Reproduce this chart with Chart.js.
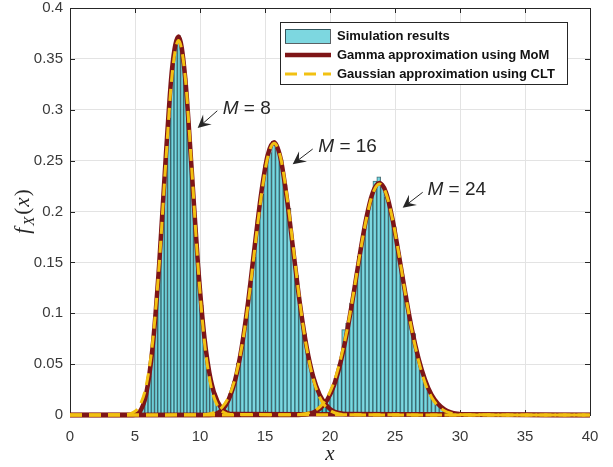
<!DOCTYPE html>
<html>
<head>
<meta charset="utf-8">
<script src="https://cdn.jsdelivr.net/npm/chart.js@4.4.1/dist/chart.umd.min.js"></script>
<style>
  html, body { margin: 0; padding: 0; background: #fff; }
  #wrap { width: 613px; height: 467px; }
</style>
</head>
<body>
<div id="wrap"><canvas id="pdfChart"></canvas></div>
<script>
// axis ticks
const xTicks = [0, 5, 10, 15, 20, 25, 30, 35, 40];
const yTicks = [0, 0.05, 0.1, 0.15, 0.2, 0.25, 0.3, 0.35, 0.4];
const yTickLabels = ['0', '0.05', '0.1', '0.15', '0.2', '0.25', '0.3', '0.35', '0.4'];

// simulated histograms (bin centres / heights)
const binX8 = [5.375, 5.625, 5.875, 6.125, 6.375, 6.625, 6.875, 7.125, 7.375, 7.625, 7.875, 8.125, 8.375, 8.625,
  8.875, 9.125, 9.375, 9.625, 9.875, 10.125, 10.375, 10.625, 10.875, 11.125, 11.375, 11.625, 11.875, 12.125];
const hist8 = [0.003, 0.009, 0.021, 0.038, 0.068, 0.101, 0.150, 0.196, 0.254, 0.292, 0.342, 0.360, 0.373, 0.356,
  0.331, 0.289, 0.240, 0.196, 0.145, 0.108, 0.074, 0.050, 0.034, 0.021, 0.012, 0.007, 0.004, 0.002];

const binX16 = [11.15, 11.45, 11.75, 12.05, 12.35, 12.65, 12.95, 13.25, 13.55, 13.85, 14.15, 14.45, 14.75, 15.05,
  15.35, 15.65, 15.95, 16.25, 16.55, 16.85, 17.15, 17.45, 17.75, 18.05, 18.35, 18.65, 18.95, 19.25, 19.55, 19.85,
  20.15, 20.45, 20.75];
const hist16 = [0.002, 0.004, 0.007, 0.013, 0.021, 0.033, 0.051, 0.071, 0.094, 0.128, 0.155, 0.192, 0.217, 0.246,
  0.258, 0.269, 0.262, 0.251, 0.226, 0.203, 0.166, 0.137, 0.104, 0.080, 0.057, 0.040, 0.027, 0.017, 0.011, 0.007,
  0.004, 0.002, 0.001];

const binX24 = [18.35, 18.65, 18.95, 19.25, 19.55, 19.85, 20.15, 20.45, 20.75, 21.05, 21.35, 21.65, 21.95, 22.25,
  22.55, 22.85, 23.15, 23.45, 23.75, 24.05, 24.35, 24.65, 24.95, 25.25, 25.55, 25.85, 26.15, 26.45, 26.75, 27.05,
  27.35, 27.65, 27.95, 28.25, 28.55, 28.85, 29.15, 29.45, 29.75];
const hist24 = [0.001, 0.002, 0.004, 0.007, 0.011, 0.017, 0.026, 0.036, 0.050, 0.084, 0.090, 0.110, 0.130, 0.156,
  0.178, 0.195, 0.214, 0.230, 0.234, 0.224, 0.214, 0.201, 0.185, 0.160, 0.138, 0.117, 0.095, 0.080, 0.058, 0.044,
  0.032, 0.023, 0.016, 0.011, 0.007, 0.005, 0.003, 0.002, 0.001];

// approximation curves
const curveX8 = [0, 4.35, 4.85, 5.35, 5.85, 6.35, 6.85, 7.35, 7.85, 8.35, 8.85, 9.35, 9.85, 10.35, 10.85, 11.35,
  11.85, 12.35, 40];
const gamma8 = [0, 0, 0, 0.003, 0.02, 0.066, 0.146, 0.25, 0.34, 0.372, 0.333, 0.243, 0.147, 0.075, 0.033, 0.013,
  0.004, 0.001, 0];
const gauss8 = [0, 0.0005, 0.0024, 0.009, 0.028, 0.071, 0.146, 0.245, 0.334, 0.368, 0.334, 0.245, 0.146, 0.071,
  0.028, 0.009, 0.0024, 0.0005, 0];

const curveX16 = [0, 10.2, 10.7, 11.2, 11.7, 12.2, 12.7, 13.2, 13.7, 14.2, 14.7, 15.2, 15.7, 16.2, 16.7, 17.2, 17.7,
  18.2, 18.7, 19.2, 19.7, 20.2, 20.7, 21.2, 40];
const gamma16 = [0, 0, 0, 0.001, 0.005, 0.015, 0.034, 0.066, 0.111, 0.165, 0.217, 0.255, 0.268, 0.252, 0.211, 0.159,
  0.108, 0.067, 0.038, 0.020, 0.010, 0.004, 0.002, 0.001, 0];
const gauss16 = [0, 0.0003, 0.001, 0.003, 0.0076, 0.0175, 0.036, 0.066, 0.109, 0.162, 0.214, 0.253, 0.267, 0.253,
  0.214, 0.162, 0.109, 0.066, 0.036, 0.0175, 0.0076, 0.003, 0.001, 0.0003, 0];

const curveX24 = [0, 17.3, 17.8, 18.3, 18.8, 19.3, 19.8, 20.3, 20.8, 21.3, 21.8, 22.3, 22.8, 23.3, 23.8, 24.3, 24.8,
  25.3, 25.8, 26.3, 26.8, 27.3, 27.8, 28.3, 28.8, 29.3, 29.8, 30.3, 40];
const gamma24 = [0, 0, 0.0002, 0.001, 0.003, 0.007, 0.015, 0.029, 0.051, 0.081, 0.118, 0.158, 0.194, 0.219, 0.228,
  0.219, 0.193, 0.157, 0.119, 0.084, 0.056, 0.035, 0.020, 0.011, 0.0055, 0.0026, 0.0012, 0.0005, 0];
const gauss24 = [0, 0.0003, 0.0007, 0.0018, 0.0042, 0.0089, 0.0176, 0.032, 0.054, 0.083, 0.119, 0.158, 0.193, 0.218,
  0.227, 0.218, 0.193, 0.158, 0.119, 0.083, 0.054, 0.032, 0.0176, 0.0089, 0.0042, 0.0018, 0.0007, 0.0003, 0];

// text arrows: [tip], [tail], [text anchor] in data units
const notes = [
  { label: '8', tip: [9.82, 0.282], tail: [11.33, 0.299], at: [11.75, 0.301] },
  { label: '16', tip: [17.13, 0.2464], tail: [18.67, 0.2614], at: [19.1, 0.2637] },
  { label: '24', tip: [25.59, 0.2037], tail: [27.13, 0.2189], at: [27.5, 0.2211] }
];

const legendItems = ['Simulation results', 'Gamma approximation using MoM', 'Gaussian approximation using CLT'];

const barFill = 'rgba(45, 190, 205, 0.62)';
const barEdge = 'rgba(20, 30, 35, 0.7)';
const gammaColor = '#7e1517';
const gaussColor = '#f2c112';
const axisColor = '#262626';

const pts = (xs, ys) => xs.map((x, i) => ({ x: x, y: ys[i] }));

function histSet(xs, ys, axis) {
    return {
        type: 'bar',
        data: pts(xs, ys),
        xAxisID: axis,
        backgroundColor: barFill,
        borderColor: barEdge,
        borderWidth: 0.6,
        barPercentage: 1,
        categoryPercentage: 1,
        grouped: false,
        order: 3
    };
}

function curveSet(xs, ys, gauss) {
    return {
        type: 'line',
        data: pts(xs, ys),
        xAxisID: 'x',
        borderColor: gauss ? gaussColor : gammaColor,
        borderWidth: gauss ? 3 : 4.5,
        borderDash: gauss ? [12, 7] : [],
        borderCapStyle: 'butt',
        pointRadius: 0,
        cubicInterpolationMode: 'monotone',
        fill: false,
        clip: false,
        order: gauss ? 1 : 2
    };
}

const hiddenX = { type: 'linear', min: 0, max: 40, offset: false, display: false };

const frame = {
    id: 'frame',
    beforeDatasetsDraw(chart) {
        const { ctx, chartArea: a, scales: { x, y } } = chart;
        ctx.save();
        ctx.strokeStyle = axisColor;
        ctx.lineWidth = 1;
        ctx.beginPath();
        xTicks.forEach(v => {
            const px = Math.round(x.getPixelForValue(v)) + 0.5;
            ctx.moveTo(px, a.bottom); ctx.lineTo(px, a.bottom - 5);
            ctx.moveTo(px, a.top); ctx.lineTo(px, a.top + 5);
        });
        yTicks.forEach(v => {
            const py = Math.round(y.getPixelForValue(v)) + 0.5;
            ctx.moveTo(a.left, py); ctx.lineTo(a.left + 5, py);
            ctx.moveTo(a.right, py); ctx.lineTo(a.right - 5, py);
        });
        ctx.stroke();
        ctx.strokeRect(Math.round(a.left) + 0.5, Math.round(a.top) + 0.5,
            Math.round(a.right - a.left), Math.round(a.bottom - a.top));
        ctx.restore();
    },
    afterDatasetsDraw(chart) {
        const { ctx, scales: { x, y } } = chart;
        ctx.save();
        // arrows with labels
        notes.forEach(n => {
            const tx = x.getPixelForValue(n.tip[0]), ty = y.getPixelForValue(n.tip[1]);
            const sx = x.getPixelForValue(n.tail[0]), sy = y.getPixelForValue(n.tail[1]);
            const len = Math.hypot(tx - sx, ty - sy);
            const ux = (tx - sx) / len, uy = (ty - sy) / len;
            const L = 13, W = 6.5;
            ctx.strokeStyle = axisColor;
            ctx.fillStyle = axisColor;
            ctx.lineWidth = 1;
            ctx.beginPath();
            ctx.moveTo(sx, sy);
            ctx.lineTo(tx - ux * 6, ty - uy * 6);
            ctx.stroke();
            const bx = tx - ux * L, by = ty - uy * L;
            ctx.beginPath();
            ctx.moveTo(tx, ty);
            ctx.lineTo(bx - uy * W, by + ux * W);
            ctx.lineTo(tx - ux * L * 0.6, ty - uy * L * 0.6);
            ctx.lineTo(bx + uy * W, by - ux * W);
            ctx.closePath();
            ctx.fill();

            let px = x.getPixelForValue(n.at[0]);
            const py = y.getPixelForValue(n.at[1]);
            ctx.textBaseline = 'middle';
            ctx.textAlign = 'left';
            ctx.font = 'italic 19px "Liberation Sans", Arial, sans-serif';
            ctx.fillText('M', px, py);
            px += ctx.measureText('M').width;
            ctx.font = '19px "Liberation Sans", Arial, sans-serif';
            ctx.fillText(' = ' + n.label, px, py);
        });

        // legend box
        const bx = 280, by = 22, bw = 287, bh = 62;
        ctx.fillStyle = '#fff';
        ctx.fillRect(bx, by, bw, bh);
        ctx.strokeStyle = axisColor;
        ctx.lineWidth = 1;
        ctx.strokeRect(bx + 0.5, by + 0.5, bw, bh);
        const rows = [36, 55, 74];
        ctx.fillStyle = barFill;
        ctx.fillRect(285, 29, 45, 14);
        ctx.strokeStyle = barEdge;
        ctx.strokeRect(285.5, 29.5, 45, 14);
        ctx.strokeStyle = gammaColor;
        ctx.lineWidth = 4.5;
        ctx.beginPath(); ctx.moveTo(285, rows[1]); ctx.lineTo(331, rows[1]); ctx.stroke();
        ctx.strokeStyle = gaussColor;
        ctx.lineWidth = 3;
        ctx.setLineDash([12, 7]);
        ctx.beginPath(); ctx.moveTo(285, rows[2]); ctx.lineTo(331, rows[2]); ctx.stroke();
        ctx.setLineDash([]);
        ctx.fillStyle = '#111';
        ctx.font = 'bold 13px "Liberation Sans", Arial, sans-serif';
        ctx.textBaseline = 'middle';
        legendItems.forEach((t, i) => ctx.fillText(t, 337, rows[i]));
        ctx.restore();
    },
    afterDraw(chart) {
        const { ctx, chartArea: a } = chart;
        // y label f_X(x), LaTeX style
        const parts = [
            { t: 'f', f: 'italic 21px "Liberation Serif", serif', dy: 0, gap: 2 },
            { t: 'X', f: 'italic 15px "Liberation Serif", serif', dy: 5, gap: 2 },
            { t: '(', f: '21px "Liberation Serif", serif', dy: 0, gap: 1 },
            { t: 'x', f: 'italic 21px "Liberation Serif", serif', dy: 0, gap: 1 },
            { t: ')', f: '21px "Liberation Serif", serif', dy: 0, gap: 0 }
        ];
        ctx.save();
        ctx.fillStyle = axisColor;
        ctx.textBaseline = 'alphabetic';
        let total = 0;
        parts.forEach(p => { ctx.font = p.f; p.w = ctx.measureText(p.t).width; total += p.w + p.gap; });
        ctx.translate(29, (a.top + a.bottom) / 2);
        ctx.rotate(-Math.PI / 2);
        let cx = -total / 2;
        parts.forEach(p => { ctx.font = p.f; ctx.fillText(p.t, cx, p.dy); cx += p.w + p.gap; });
        ctx.restore();
    }
};

new Chart(document.getElementById('pdfChart'), {
    type: 'bar',
    data: {
        datasets: [
            curveSet(curveX8, gauss8, true),
            curveSet(curveX16, gauss16, true),
            curveSet(curveX24, gauss24, true),
            curveSet(curveX8, gamma8, false),
            curveSet(curveX16, gamma16, false),
            curveSet(curveX24, gamma24, false),
            histSet(binX8, hist8, 'xh8'),
            histSet(binX16, hist16, 'xh16'),
            histSet(binX24, hist24, 'xh24')
        ]
    },
    options: {
        responsive: true,
        maintainAspectRatio: false,
        animation: false,
        layout: { padding: { top: 8, right: 23, left: 0, bottom: 0 } },
        plugins: { legend: { display: false }, tooltip: { enabled: false } },
        scales: {
            x: {
                type: 'linear',
                min: 0,
                max: 40,
                offset: false,
                afterBuildTicks: s => { s.ticks = xTicks.map(v => ({ value: v })); },
                afterFit: s => { s.height = 52; s.paddingLeft = 0; s.paddingRight = 0; },
                ticks: { color: '#3a3a3a', font: { family: '"Liberation Sans", Arial', size: 15 }, padding: 13, maxRotation: 0 },
                grid: { color: '#e3e3e3', drawTicks: false, offset: false },
                border: { display: false },
                title: {
                    display: true, text: 'x', color: axisColor, padding: { top: 0, bottom: 0 },
                    font: { family: '"Liberation Serif", serif', style: 'italic', size: 21 }
                }
            },
            xh8: hiddenX,
            xh16: hiddenX,
            xh24: hiddenX,
            y: {
                min: 0,
                max: 0.4,
                afterBuildTicks: s => { s.ticks = yTicks.map(v => ({ value: v })); },
                afterFit: s => { s.width = 70; s.paddingTop = 0; s.paddingBottom = 0; },
                ticks: {
                    color: '#3a3a3a', font: { family: '"Liberation Sans", Arial', size: 15 }, padding: 7,
                    callback: (v, i) => yTickLabels[i]
                },
                grid: { color: '#e3e3e3', drawTicks: false },
                border: { display: false }
            }
        }
    },
    plugins: [frame]
});
</script>
</body>
</html>
